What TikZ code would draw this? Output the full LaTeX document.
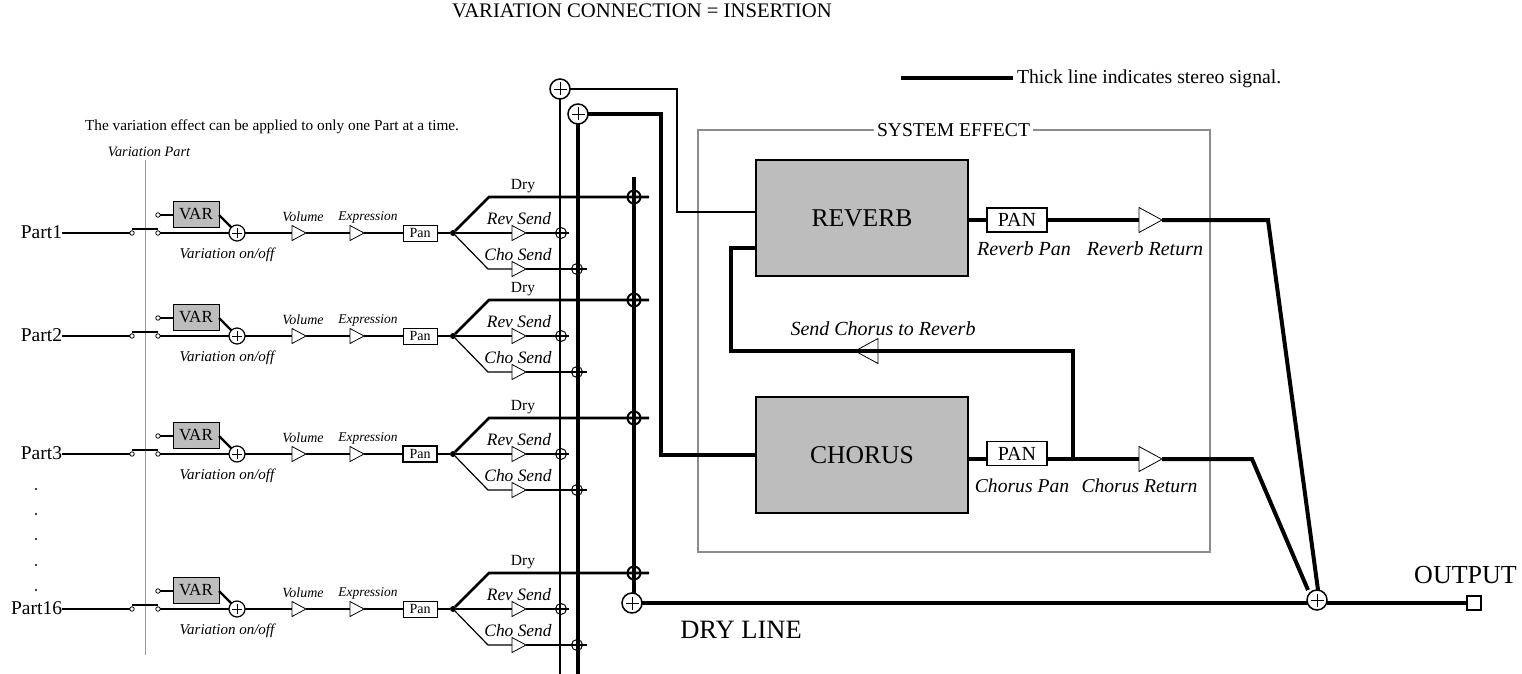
\documentclass[tikz,border=0pt]{standalone}
\usepackage{fontspec}
\setmainfont{Liberation Serif}
\usetikzlibrary{shapes.geometric}
\definecolor{boxgray}{HTML}{BDBDBD}
\definecolor{framegray}{HTML}{8C8C8C}
\newcommand{\fs}[1]{\fontsize{#1}{#1}\selectfont}
\tikzset{
  x=1pt,y=-1pt,
  every node/.style={inner sep=0pt,outer sep=0pt},
  txt/.style={font=\fs{#1}},
  itxt/.style={font=\fs{#1}\itshape},
  sw/.style={circle,draw,fill=white,line width=.8pt,minimum size=4.5pt},
  sumc/.style={circle,draw,fill=white,line width=#1,minimum size=16pt,plus arm=5pt,
    path picture={\draw[line width=.7pt] ([xshift=-\plusarm]path picture bounding box.center)--([xshift=\plusarm]path picture bounding box.center)
      ([yshift=-\plusarm]path picture bounding box.center)--([yshift=\plusarm]path picture bounding box.center);}},
  plus arm/.code={\def\plusarm{#1}},
  bigsum/.style={sumc=1.5pt,minimum size=20pt,plus arm=6.5pt},
  cross/.style={circle,draw,line width=#1,minimum size=11pt},
  amp/.style={isosceles triangle,isosceles triangle stretches,shape border rotate=0,draw,fill=white,line width=.8pt,minimum height=14pt,minimum width=15pt,anchor=apex},
  bigamp/.style={amp,minimum height=23pt,minimum width=25pt},
  varbox/.style={draw,fill=boxgray,line width=1pt,minimum width=46pt,minimum height=26pt,font=\fs{17}},
  panbox/.style={draw,fill=white,line width=1pt,minimum width=34pt,minimum height=16pt,font=\fs{14}},
  fx/.style={draw,fill=boxgray,line width=1.5pt,minimum width=212pt,minimum height=116pt,font=\fs{25.6}},
  bigpan/.style={draw,fill=white,line width=1.5pt,minimum width=60pt,minimum height=24pt,font=\fs{20}},
  w1/.style={line width=1.2pt},
  w2/.style={line width=2.2pt},
  w3/.style={line width=2.8pt},
  w4/.style={line width=4pt},
}
\begin{document}
\begin{tikzpicture}
\useasboundingbox (0,0) rectangle (1522,674);
% header
\node[txt=20.7,anchor=west] (title) at (452,11) {VARIATION CONNECTION = INSERTION};
\coordinate (lgA) at (901,78);
\coordinate (lgB) at (1013,78);
\draw[w4] (lgA)--(lgB);
\node[txt=19.7,anchor=west] (legend) at (1017,79) {Thick line indicates stereo signal.};
\node[txt=15.3,anchor=west] (note) at (85,127) {The variation effect can be applied to only one Part at a time.};
\node[itxt=14.3] (vp) at (149,152) {Variation Part};
\coordinate (vA) at (145,160);
\coordinate (vB) at (145,655);
\draw[gray!80,line width=1pt] (vA)--(vB);
% buses
\node[bigsum] (busR) at (560,89) {};
\node[bigsum] (busC) at (578,114) {};
\node[bigsum] (busD) at (632,603) {};
\coordinate (busRend) at (561,674);
\coordinate (busCend) at (577,674);
\coordinate (busDtop) at (634,177);
\draw[line width=2.2pt] (busR.south) -- (busR.south|-busRend);
\draw[w4] (busC.south) -- (busC.south|-busCend);
\draw[w4] (busDtop) -- (busDtop|-busD.north);
% system effect frame
\node[draw=framegray,line width=2pt,minimum width=512pt,minimum height=422pt] (frame) at (954,341) {};
\node[txt=19.6,fill=white,inner xsep=3pt,inner ysep=2pt] (sys) at (953.5,130) {SYSTEM EFFECT};
\node[fx] (rev) at (862,218) {\raisebox{-4pt}{REVERB}};
\node[fx] (cho) at (862,455) {\raisebox{-4pt}{CHORUS}};
\node[bigpan] (rpan) at (1017,220) {PAN};
\node[bigpan] (cpan) at (1017,453.5) {PAN};
\node[bigamp] (rret) at (1162,220) {};
\node[bigamp] (cret) at (1162,459) {};
\node[bigamp,shape border rotate=180] (s2r) at (855,351) {};
\node[itxt=20] at (1024,249) {Reverb Pan};
\node[itxt=20] at (1145,249) {Reverb Return};
\node[itxt=19.6] at (1022,486) {Chorus Pan};
\node[itxt=19.6] at (1139.5,486) {Chorus Return};
\node[itxt=20] at (883,329) {Send Chorus to Reverb};
\node[bigsum] (out) at (1317,600) {};
\node[draw,fill=white,line width=2pt,minimum size=14pt] (outsq) at (1474,602.5) {};
\node[txt=26] at (1465.5,575) {OUTPUT};
\node[txt=26.5] at (741,630) {DRY LINE};
% wiring right
\draw[line width=2pt] (busR.east) -| (677,212) -- (677,212-|rev.west);
\draw[w4] (busC.east) -| (661,455) -- (661,455-|cho.west);
\draw[w4] (968,220) -- (rpan.west);
\draw[w4] (rpan.east) -- (rret.west);
\draw[w4,line join=miter] (rret.east) -- (1268,220) -- (1318,590);
\draw[w4] (968,459) -- (986,459);
\draw[w4] (1047,459) -- (cret.west);
\draw[w4,line join=miter] (cret.east) -- (1252,459) -- (1308,590);
\draw[w4] (1073,459) -- (1073,351) -- (s2r.west);
\draw[w4] (s2r.east) -- (731,351) -- (731,248) -- (755,248);
\draw[w4] (busD.east) -- (busD.east-|out.west);
\draw[w4] (out.east|-outsq) -- (outsq.west);
% rows
\foreach \r/\y/\lab/\pw in {a/233/Part1/1pt,b/336/Part2/1pt,c/454/Part3/2pt,d/609/Part16/1pt}{
  \node[txt=19.5,anchor=east] (p\r) at (62,\y-1) {\lab};
  \node[sw] (sa\r) at (132,\y) {};
  \node[sw] (sb\r) at (158,\y) {};
  \node[sw] (sc\r) at (158,\y-18) {};
  \node[varbox] (var\r) at (196,\y-19) {VAR};
  \node[sumc=1.2pt] (sum\r) at (237,\y) {};
  \node[amp] (vol\r) at (306,\y) {};
  \node[amp] (exp\r) at (364,\y) {};
  \node[panbox,line width=\pw] (pan\r) at (420,\y) {Pan};
  \node[circle,fill=black,minimum size=6pt] (dot\r) at (453,\y) {};
  \coordinate (dk\r) at (489,\y-36);
  \coordinate (de\r) at (649,\y-36);
  \coordinate (ck\r) at (488,\y+36);
  \coordinate (ce\r) at (587,\y+36);
  \coordinate (re\r) at (569,\y);
  \node[amp] (rv\r) at (526,\y) {};
  \node[amp] (ch\r) at (526,\y+36) {};
  \node[cross=1pt] (rc\r) at (561,\y) {};
  \node[cross=1pt] (cc\r) at (577,\y+36) {};
  \node[cross=2pt,minimum size=13pt] (dc\r) at (634,\y-36) {};
  \draw[line width=2.4pt] (p\r.east|-sa\r) -- (sa\r.west);
  \draw[line width=2pt] ([yshift=4pt]sa\r.center) -- ([yshift=4pt]sb\r.center);
  \draw[w2] (sb\r) -- (sum\r.west);
  \draw[w2] (sc\r) -- (var\r.west|-sc\r);
  \draw[w2] (var\r.east|-sc\r) -- (sum\r.north west);
  \draw[w2] (sum\r.east) -- (vol\r.west);
  \draw[w2] (vol\r.east) -- (exp\r.west);
  \draw[w2] (exp\r.east) -- (pan\r.west);
  \draw[w2] (pan\r.east) -- (dot\r);
  \draw[w3,line join=miter] (dot\r) -- (dk\r) -- (de\r);
  \draw[w1] (dot\r) -- (rv\r.west);
  \draw[w1] (rv\r.east) -- (re\r);
  \draw[w1] (dot\r) -- (ck\r) -- (ch\r.west);
  \draw[w1] (ch\r.east) -- (ce\r);
  \node[itxt=15] at (227,\y+22) {Variation on/off};
  \node[itxt=14] at (303,\y-16) {Volume};
  \node[itxt=13.4] at (368,\y-16) {Expression};
  \node[txt=15.5] at (523,\y-47) {Dry};
  \node[itxt=17.4] at (519,\y-14) {Rev Send};
  \node[itxt=17.4] at (518,\y+22) {Cho Send};
}
\foreach \k in {489,514,539,565,590}{\fill (36,\k) circle (1.1pt);}
\end{tikzpicture}
\end{document}
